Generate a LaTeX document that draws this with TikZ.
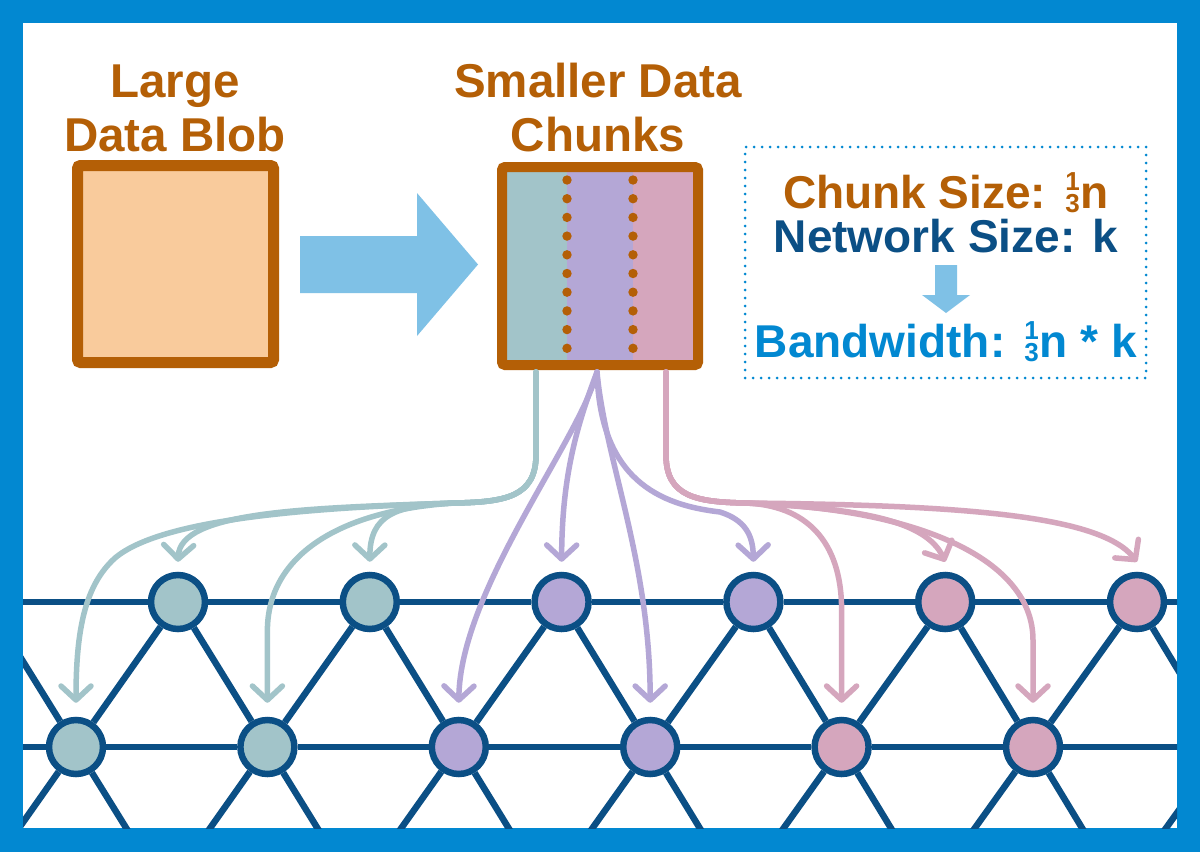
\documentclass[tikz,border=0pt]{standalone}
\usepackage{fontspec}
\setmainfont{Liberation Sans}
\usetikzlibrary{arrows.meta,calc}
\definecolor{frameblue}{HTML}{0288D1}
\definecolor{rust}{HTML}{B45F06}
\definecolor{peach}{HTML}{F9CB9C}
\definecolor{lightarrow}{HTML}{7FC1E6}
\definecolor{tealc}{HTML}{A2C4C9}
\definecolor{purc}{HTML}{B4A7D6}
\definecolor{pinkc}{HTML}{D5A6BD}
\definecolor{netblue}{HTML}{0B4F85}
\newcommand{\onethird}{\kern2pt\raisebox{-4pt}{\fontsize{26}{26}\selectfont\vbox{\offinterlineskip\halign{\hfil##\hfil\cr 1\cr\noalign{\kern3pt}3\cr}}}\kern1pt}
\tikzset{
  title/.style={text=rust, font=\fontsize{47.5}{54}\selectfont\bfseries, inner sep=0pt, anchor=base},
  infotext/.style={font=\fontsize{46}{54}\selectfont\bfseries, inner sep=0pt, anchor=base},
  netnode/.style={circle, draw=netblue, line width=6.5pt, minimum size=54pt, inner sep=0pt},
  netline/.style={draw=netblue, line width=6.5pt},
  conn/.style={line width=5.5pt, line cap=round, line join=round, -{Straight Barb[length=14pt,width=30pt,round]}},
  boxframe/.style={draw=rust, rounded corners=3pt, inner sep=0pt}
}
\begin{document}
\begin{tikzpicture}[x=1pt,y=-1pt]
\useasboundingbox (0,0) rectangle (1200,852);
% frame
\fill[frameblue] (0,0) rectangle (1200,852);
\fill[white] (23,23) rectangle (1177,828);

% titles
\node[title] (lgt) at (175,97) {\begin{tabular}[t]{@{}c@{}}Large\\Data Blob\end{tabular}};
\node[title] (smt) at (598,97) {\begin{tabular}[t]{@{}c@{}}Smaller Data\\Chunks\end{tabular}};

% large blob
\node[boxframe, line width=11pt, fill=peach, minimum width=196pt, minimum height=197pt] (blob) at (175.5,264) {};

% block arrow
\fill[lightarrow] (300,236) -- (417,236) -- (417,193) -- (478,264.5) -- (417,336) -- (417,293) -- (300,293) -- cycle;

% chunks
\fill[tealc] (507,172) rectangle (567,360);
\fill[purc] (567,172) rectangle (633,360);
\fill[pinkc] (633,172) rectangle (693,360);
\foreach \k in {0,...,9} {
  \fill[rust] (567,180+18.7*\k) circle (4.7pt);
  \fill[rust] (633,180+18.7*\k) circle (4.7pt);
}
\node[boxframe, line width=10pt, minimum width=196pt, minimum height=198pt] (chunks) at (600,266) {};

% info box
\node[draw=frameblue, line width=3pt, dash pattern=on 0pt off 8pt, line cap=round, minimum width=401pt, minimum height=231pt, inner sep=0pt] (infobox) at (945.5,262.5) {};
\node[infotext, text=rust] (l1) at (946,208) {Chunk Size: \onethird n};
\node[infotext, text=netblue] (l2) at (946,252) {Network Size: k};
\fill[lightarrow] (935,265) -- (957,265) -- (957,295) -- (970,295) -- (946,313) -- (922,295) -- (935,295) -- cycle;
\node[infotext, text=frameblue] (l3) at (946,357) {Bandwidth: \onethird n * k};

% network
\begin{scope}
\clip (23,23) rectangle (1177,828);
\node[netnode, fill=tealc] (t0) at (178,602) {};
\node[netnode, fill=tealc] (t1) at (369.8,602) {};
\node[netnode, fill=purc] (t2) at (561.6,602) {};
\node[netnode, fill=purc] (t3) at (753.4,602) {};
\node[netnode, fill=pinkc] (t4) at (945.2,602) {};
\node[netnode, fill=pinkc] (t5) at (1137,602) {};
\node[netnode, fill=tealc] (b0) at (76,747) {};
\node[netnode, fill=tealc] (b1) at (267.4,747) {};
\node[netnode, fill=purc] (b2) at (458.8,747) {};
\node[netnode, fill=purc] (b3) at (650.2,747) {};
\node[netnode, fill=pinkc] (b4) at (841.6,747) {};
\node[netnode, fill=pinkc] (b5) at (1033,747) {};
\coordinate (tv0) at (-13.8,602);
\coordinate (tv6) at (1328.8,602);
\coordinate (bv6) at (1224.4,747);
\coordinate (hl0) at (0,602);
\coordinate (hr0) at (1200,602);
\coordinate (hl1) at (0,747);
\coordinate (hr1) at (1200,747);
\draw[netline] (hl0) -- (t0) -- (t1) -- (t2) -- (t3) -- (t4) -- (t5) -- (hr0);
\draw[netline] (hl1) -- (b0) -- (b1) -- (b2) -- (b3) -- (b4) -- (b5) -- (hr1);
\foreach \i in {0,...,5} {
  \draw[netline] (t\i) -- (b\i);
  \draw[netline] (b\i) -- ($(t\i)!1.6!(b\i)$);
}
\foreach \i/\j in {0/1,1/2,2/3,3/4,4/5} {
  \draw[netline] (t\i) -- (b\j);
  \draw[netline] (b\j) -- ($(t\i)!1.6!(b\j)$);
}
\draw[netline] (tv0) -- (b0);
\draw[netline] (b0) -- ($(tv0)!1.6!(b0)$);
\draw[netline] (t5) -- ($(t5)!1.6!(bv6)$);
\draw[netline] (tv6) -- ($(tv6)!1.6!(bv6)$);
\end{scope}

% connectors
\coordinate (ts) at ($(chunks.south)+(-64,2)$);
\coordinate (ps) at ($(chunks.south)+(-3,2)$);
\coordinate (ks) at ($(chunks.south)+(66,2)$);
% teal
\draw[conn, tealc] (ts) -- (536,455) .. controls (536,497) and (505,502) .. (455,503)
  .. controls (395,505) and (370,515) .. ([yshift=10pt]t1.north);
\draw[conn, tealc] (ts) -- (536,455) .. controls (536,497) and (505,502) .. (455,503)
  .. controls (340,510) and (268,555) .. (267.4,630) -- ([yshift=14pt]b1.north);
\draw[conn, tealc] (ts) -- (536,455) .. controls (536,497) and (505,502) .. (455,503)
  .. controls (300,508) and (180,512) .. ([yshift=10pt]t0.north);
\draw[conn, tealc] (ts) -- (536,455) .. controls (536,497) and (505,502) .. (455,503)
  .. controls (300,508) and (160,520) .. (115,558) .. controls (85,585) and (76,630) .. ([yshift=14pt]b0.north);
% purple
\draw[conn, purc] (ps) .. controls (580,440) and (460,590) .. ([yshift=14pt]b2.north);
\draw[conn, purc] (ps) .. controls (575,430) and (562,480) .. ([yshift=10pt]t2.north);
\draw[conn, purc] (ps) .. controls (605,460) and (650,560) .. ([yshift=14pt]b3.north);
\draw[conn, purc] (ps) .. controls (600,480) and (660,505) .. (720,512) .. controls (745,520) and (753,535) .. ([yshift=10pt]t3.north);
% pink
\draw[conn, pinkc] (ks) -- (666,455) .. controls (666,497) and (697,502) .. (745,503)
  .. controls (805,505) and (841.6,540) .. (841.6,610) -- ([yshift=14pt]b4.north);
\draw[conn, pinkc] (ks) -- (666,455) .. controls (666,497) and (697,502) .. (745,503)
  .. controls (850,508) and (925,518) .. ([yshift=10pt]t4.north);
\draw[conn, pinkc] (ks) -- (666,455) .. controls (666,497) and (697,502) .. (745,503)
  .. controls (920,508) and (1033,560) .. (1033,640) -- ([yshift=14pt]b5.north);
\draw[conn, pinkc] (ks) -- (666,455) .. controls (666,497) and (697,502) .. (745,503)
  .. controls (960,505) and (1100,515) .. ([yshift=10pt]t5.north);
\end{tikzpicture}
\end{document}
